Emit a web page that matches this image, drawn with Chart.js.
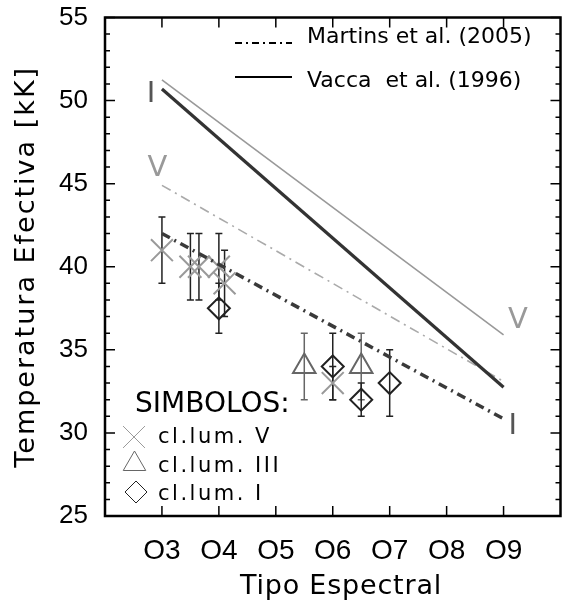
<!DOCTYPE html>
<html>
<head>
<meta charset="utf-8">
<script src="https://cdn.jsdelivr.net/npm/chart.js@4/dist/chart.umd.min.js"></script>
<style>
  html, body { margin: 0; padding: 0; background: #fff; overflow: hidden; }
</style>
</head>
<body>
<canvas id="tempChart" width="578" height="604"></canvas>
<script>
const fontTxt = '"DejaVu Sans", sans-serif';
const fontNum = '"Liberation Sans", Arial, sans-serif';

const tipoTicks = [3, 4, 5, 6, 7, 8, 9];
const tempTicks = [25, 30, 35, 40, 45, 50, 55];

// calibraciones, extremos O3 y O9
const calTipos = [3, 9];
const martinsV = [44.9, 33.1];
const martinsI = [42.0, 30.85];
const vaccaV = [51.25, 35.9];
const vaccaI = [50.7, 32.75];

// estrellas por clase de luminosidad
const tipoV = [3, 3.5, 3.65, 4, 4.1, 6];
const tempV = [41, 40, 40, 40, 39, 33];
const errV = [2, 2, 2, 2, 2, 1];
const tipoIII = [5.5, 6.5];
const tempIII = [34, 34];
const errIII = [2, 2];
const tipoI = [4, 6, 6.5, 7];
const tempI = [37.5, 34, 32, 33];
const errI = [1.5, 2, 1, 2];

// letras de clase junto a los extremos de las rectas
const claseTxt = ['I', 'V', 'V', 'I'];
const claseTipo = [2.81, 2.92, 9.25, 9.16];
const claseTemp = [50.4, 46.0, 36.8, 30.45];
const claseColor = ['#555', '#999', '#999', '#555'];

const simboloV = { pointStyle: 'crossRot', radius: 15.5, color: '#9a9a9a' };
const simboloIII = { pointStyle: 'triangle', radius: 13, color: '#666' };
const simboloI = { pointStyle: 'rectRot', radius: 11, color: '#222' };

function puntos(xs, ys) {
  return xs.map(function (x, i) { return { x: x, y: ys[i] }; });
}

function recta(data, color, width, dash) {
  return {
    data: puntos(calTipos, data),
    showLine: true,
    borderColor: color,
    borderWidth: width,
    borderDash: dash || [],
    pointRadius: 0,
    fill: false
  };
}

function estrellas(xs, ys, s) {
  return {
    data: puntos(xs, ys),
    showLine: false,
    pointStyle: s.pointStyle,
    pointRadius: s.radius,
    pointBorderColor: s.color,
    pointBackgroundColor: 'rgba(0,0,0,0)',
    pointBorderWidth: 2
  };
}

function barrasError(chart, xs, ys, es, color) {
  const ctx = chart.ctx, sx = chart.scales.x, sy = chart.scales.y;
  ctx.save();
  ctx.strokeStyle = color;
  ctx.lineWidth = 1.5;
  ctx.beginPath();
  for (let i = 0; i < xs.length; i++) {
    const px = sx.getPixelForValue(xs[i]);
    const top = sy.getPixelForValue(ys[i] + es[i]);
    const bot = sy.getPixelForValue(ys[i] - es[i]);
    ctx.moveTo(px, top); ctx.lineTo(px, bot);
    ctx.moveTo(px - 3.5, top); ctx.lineTo(px + 3.5, top);
    ctx.moveTo(px - 3.5, bot); ctx.lineTo(px + 3.5, bot);
  }
  ctx.stroke();
  ctx.restore();
}

function marco(chart) {
  const ctx = chart.ctx, a = chart.chartArea, sx = chart.scales.x, sy = chart.scales.y;
  ctx.save();
  ctx.strokeStyle = '#000';
  ctx.lineWidth = 2.5;
  ctx.strokeRect(a.left, a.top, a.right - a.left, a.bottom - a.top);
  ctx.lineWidth = 1.5;
  ctx.beginPath();
  for (let v = tempTicks[0]; v <= tempTicks[tempTicks.length - 1]; v++) {
    const py = sy.getPixelForValue(v);
    const len = v % 5 === 0 ? 10 : 5;
    ctx.moveTo(a.left, py); ctx.lineTo(a.left + len, py);
    ctx.moveTo(a.right, py); ctx.lineTo(a.right - len, py);
  }
  tipoTicks.forEach(function (t) {
    const px = sx.getPixelForValue(t);
    ctx.moveTo(px, a.bottom); ctx.lineTo(px, a.bottom - 10);
    ctx.moveTo(px, a.top); ctx.lineTo(px, a.top + 10);
  });
  ctx.stroke();
  ctx.restore();
}

function etiquetasClase(chart) {
  const ctx = chart.ctx, sx = chart.scales.x, sy = chart.scales.y;
  ctx.save();
  ctx.font = '29px ' + fontTxt;
  ctx.textAlign = 'center';
  ctx.textBaseline = 'middle';
  for (let i = 0; i < claseTxt.length; i++) {
    ctx.fillStyle = claseColor[i];
    ctx.fillText(claseTxt[i], sx.getPixelForValue(claseTipo[i]), sy.getPixelForValue(claseTemp[i]) + 1);
  }
  ctx.restore();
}

function leyendaLineas(ctx) {
  ctx.save();
  ctx.strokeStyle = '#000';
  ctx.lineWidth = 2;
  ctx.setLineDash([7, 4, 2, 4]);
  ctx.beginPath(); ctx.moveTo(235, 43); ctx.lineTo(292, 43); ctx.stroke();
  ctx.setLineDash([]);
  ctx.beginPath(); ctx.moveTo(235, 77); ctx.lineTo(292, 77); ctx.stroke();
  ctx.fillStyle = '#000';
  ctx.font = '22px ' + fontTxt;
  ctx.textBaseline = 'alphabetic';
  ctx.fillText('Martins et al. (2005)', 307, 43);
  ctx.fillText('Vacca  et al. (1996)', 307, 87);
  ctx.restore();
}

function leyendaSimbolos(ctx) {
  ctx.save();
  ctx.fillStyle = '#000';
  ctx.font = '28px ' + fontTxt;
  ctx.fillText('SIMBOLOS:', 135, 412);
  ctx.font = '21px ' + fontTxt;
  ctx.letterSpacing = '2.5px';
  ctx.fillText('cl.lum. V', 158, 443);
  ctx.fillText('cl.lum. III', 158, 472);
  ctx.fillText('cl.lum. I', 158, 500);
  ctx.letterSpacing = '0px';
  [[simboloV, 134, 437], [simboloIII, 134.5, 464], [simboloI, 136, 492]].forEach(function (m) {
    ctx.strokeStyle = m[0].color;
    ctx.fillStyle = 'rgba(0,0,0,0)';
    Chart.helpers.drawPoint(ctx, { pointStyle: m[0].pointStyle, radius: m[0].radius, rotation: 0, borderWidth: 2 }, m[1], m[2]);
  });
  ctx.restore();
}

function titulos(chart) {
  const ctx = chart.ctx, a = chart.chartArea;
  ctx.save();
  ctx.fillStyle = '#000';
  ctx.font = '27px ' + fontTxt;
  ctx.textAlign = 'center';
  ctx.textBaseline = 'alphabetic';
  ctx.letterSpacing = '0.8px';
  ctx.fillText('Tipo Espectral', 341, 594);
  ctx.translate(34, (a.top + a.bottom) / 2);
  ctx.rotate(-Math.PI / 2);
  ctx.letterSpacing = '2px';
  ctx.fillText('Temperatura Efectiva [kK]', 0, 0);
  ctx.restore();
}

const idlPlot = {
  id: 'idlPlot',
  beforeDatasetsDraw(chart) {
    barrasError(chart, tipoV, tempV, errV, '#222');
    barrasError(chart, tipoIII, tempIII, errIII, '#666');
    barrasError(chart, tipoI, tempI, errI, '#222');
  },
  afterDraw(chart) {
    marco(chart);
    etiquetasClase(chart);
    leyendaLineas(chart.ctx);
    leyendaSimbolos(chart.ctx);
    titulos(chart);
  }
};

new Chart(document.getElementById('tempChart'), {
  type: 'scatter',
  data: {
    datasets: [
      recta(vaccaV, '#999', 1.6),
      recta(vaccaI, '#333', 3.2),
      recta(martinsV, '#aaa', 1.6, [10, 5, 2, 5]),
      recta(martinsI, '#3a3a3a', 3.5, [9, 5, 2, 5]),
      estrellas(tipoV, tempV, simboloV),
      estrellas(tipoIII, tempIII, simboloIII),
      estrellas(tipoI, tempI, simboloI)
    ]
  },
  options: {
    responsive: false,
    animation: false,
    devicePixelRatio: 1,
    events: [],
    layout: { padding: { top: 9, right: 1, left: 0, bottom: 0 } },
    plugins: { legend: { display: false }, tooltip: { enabled: false } },
    scales: {
      x: {
        type: 'linear',
        min: 2,
        max: 10,
        grid: { display: false, drawTicks: false },
        border: { display: false },
        afterBuildTicks: function (s) { s.ticks = tipoTicks.map(function (v) { return { value: v }; }); },
        afterFit: function (s) { s.height = 88; s.paddingLeft = 0; s.paddingRight = 0; },
        ticks: {
          color: '#000',
          padding: 18,
          maxRotation: 0,
          font: { family: fontNum, size: 28 },
          callback: function (v) { return 'O' + v; }
        }
      },
      y: {
        type: 'linear',
        min: 25,
        max: 55,
        grid: { display: false, drawTicks: false },
        border: { display: false },
        afterBuildTicks: function (s) { s.ticks = tempTicks.map(function (v) { return { value: v }; }); },
        afterFit: function (s) { s.width = 105; s.paddingTop = 0; s.paddingBottom = 0; },
        ticks: {
          color: '#000',
          padding: 17,
          font: { family: fontNum, size: 26 }
        }
      }
    }
  },
  plugins: [idlPlot]
});
</script>
</body>
</html>
